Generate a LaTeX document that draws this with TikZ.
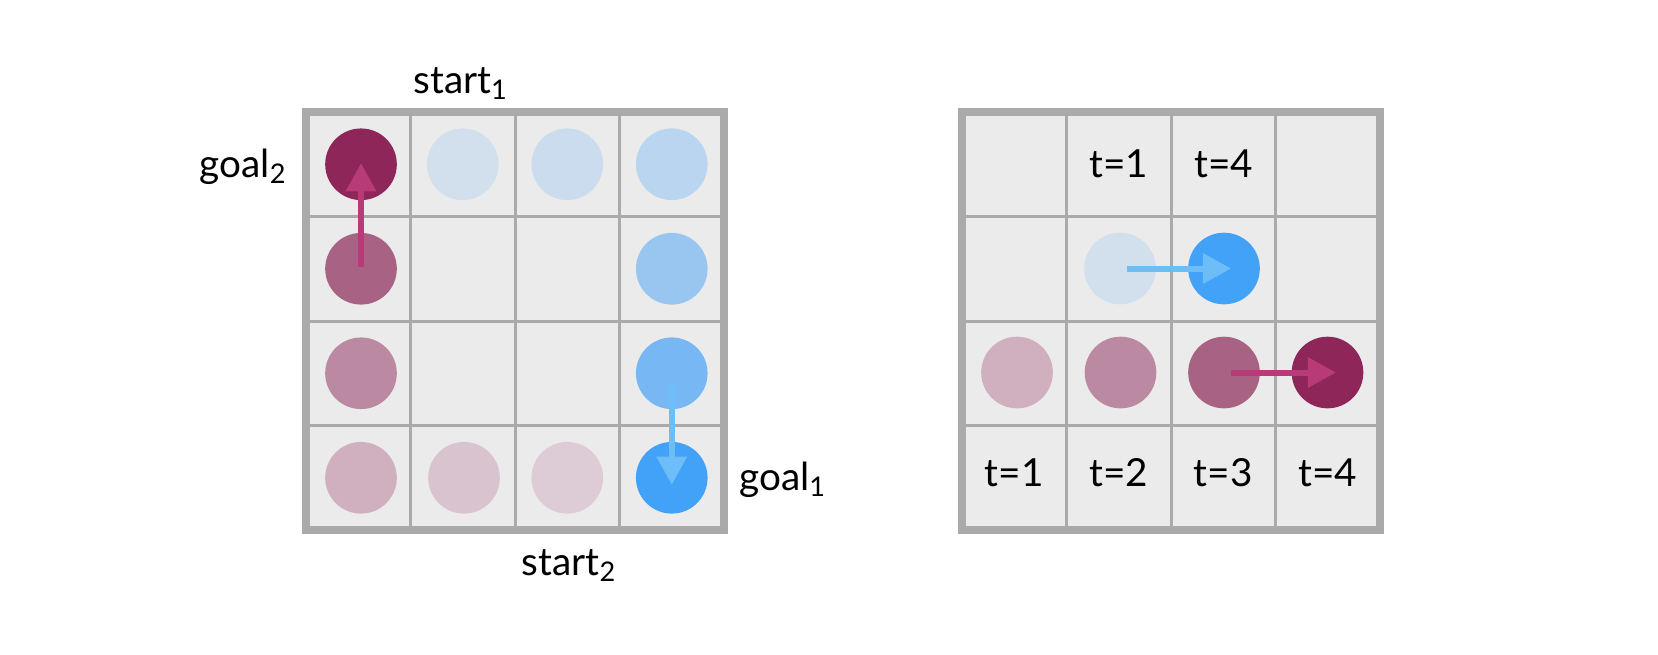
\documentclass[tikz,border=0pt]{standalone}
\usepackage{fontspec}
\setmainfont{Lato}
\usepackage{tikz}
\usetikzlibrary{arrows.meta}

\definecolor{cellbg}{HTML}{EBEBEB}
\definecolor{gridline}{HTML}{AAAAAA}
\definecolor{plumA}{HTML}{8E2659}
\definecolor{plumB}{HTML}{A86283}
\definecolor{plumC}{HTML}{BC89A3}
\definecolor{plumD}{HTML}{D0AFBF}
\definecolor{plumE}{HTML}{D8C3CE}
\definecolor{plumF}{HTML}{DDCCD5}
\definecolor{skyA}{HTML}{42A2F8}
\definecolor{skyB}{HTML}{77B8F4}
\definecolor{skyC}{HTML}{99C6F0}
\definecolor{skyD}{HTML}{B9D5F0}
\definecolor{skyE}{HTML}{CADCEE}
\definecolor{skyF}{HTML}{D2E0EE}
\definecolor{plumarrow}{HTML}{B83A77}
\definecolor{skyarrow}{HTML}{6DBDF8}

\begin{document}
\begin{tikzpicture}[x=0.01cm, y=-0.01cm,
    dot/.style={circle, inner sep=0pt, minimum size=0.716cm},
    lbl/.style={anchor=base, inner sep=0pt, font=\fontsize{11}{13}\selectfont},
    move/.style={-{Triangle[length=8pt, width=8.3pt]}, line width=1.7pt}]
    \useasboundingbox (0,0) rectangle (1658,654);

    %Grids
    \foreach \gx in {306, 962} {
        \fill[cellbg] (\gx,112) rectangle ++(418,418);
        \foreach \k in {1,2,3} {
            \draw[gridline, line width=0.85pt] (\gx+104.5*\k,112) -- ++(0,418);
            \draw[gridline, line width=0.85pt] (\gx,112+104.5*\k) -- ++(418,0);
        }
        \draw[gridline, line width=2.42pt] (\gx,112) rectangle ++(418,418);
    }

    %Nodes, left grid
    \node[dot, fill=plumA] at (361, 164.25) (l11) {};
    \node[dot, fill=skyF] at (462.75, 164.25) (l12) {};
    \node[dot, fill=skyE] at (567.25, 164.25) (l13) {};
    \node[dot, fill=skyD] at (671.75, 164.25) (l14) {};
    \node[dot, fill=plumB] at (361, 268.75) (l21) {};
    \node[dot, fill=skyC] at (671.75, 268.75) (l24) {};
    \node[dot, fill=plumC] at (361, 373.25) (l31) {};
    \node[dot, fill=skyB] at (671.75, 373.25) (l34) {};
    \node[dot, fill=plumD] at (361, 477.75) (l41) {};
    \node[dot, fill=plumE] at (464, 477.75) (l42) {};
    \node[dot, fill=plumF] at (567.25, 477.75) (l43) {};
    \node[dot, fill=skyA] at (671.75, 477.75) (l44) {};

    %Nodes, right grid
    \node[dot, fill=skyF] at (1120, 268.5) (r22) {};
    \node[dot, fill=skyA] at (1224, 268.5) (r23) {};
    \node[dot, fill=plumD] at (1017, 372.5) (r31) {};
    \node[dot, fill=plumC] at (1120.5, 372.5) (r32) {};
    \node[dot, fill=plumB] at (1224, 372.5) (r33) {};
    \node[dot, fill=plumA] at (1327.5, 372.5) (r34) {};

    %Labels
    \node[lbl] at (461, 93) (start1) {start\textsubscript{1}};
    \node[lbl] at (243.5, 177) (goal2) {goal\textsubscript{2}};
    \node[lbl] at (783, 490) (goal1) {goal\textsubscript{1}};
    \node[lbl] at (569.5, 575) (start2) {start\textsubscript{2}};
    \node[lbl] at (1119, 177) (ta) {t=1};
    \node[lbl] at (1223.5, 177) (tb) {t=4};
    \node[lbl] at (1014.25, 486) (tc) {t=1};
    \node[lbl] at (1118.75, 486) (td) {t=2};
    \node[lbl] at (1223.25, 486) (te) {t=3};
    \node[lbl] at (1327.75, 486) (tf) {t=4};

    %Lines
    \draw[move, plumarrow] ([yshift=0.5pt]l21.center) -- ([yshift=0.3pt]l11.center);
    \draw[move, skyarrow] ([yshift=-2.3pt]l34.center) -- ([yshift=-2pt]l44.center);
    \draw[move, skyarrow] ([xshift=2pt]r22.center) -- ([xshift=2pt]r23.center);
    \draw[move, plumarrow] ([xshift=2pt]r33.center) -- ([xshift=2.4pt]r34.center);

\end{tikzpicture}
\end{document}
